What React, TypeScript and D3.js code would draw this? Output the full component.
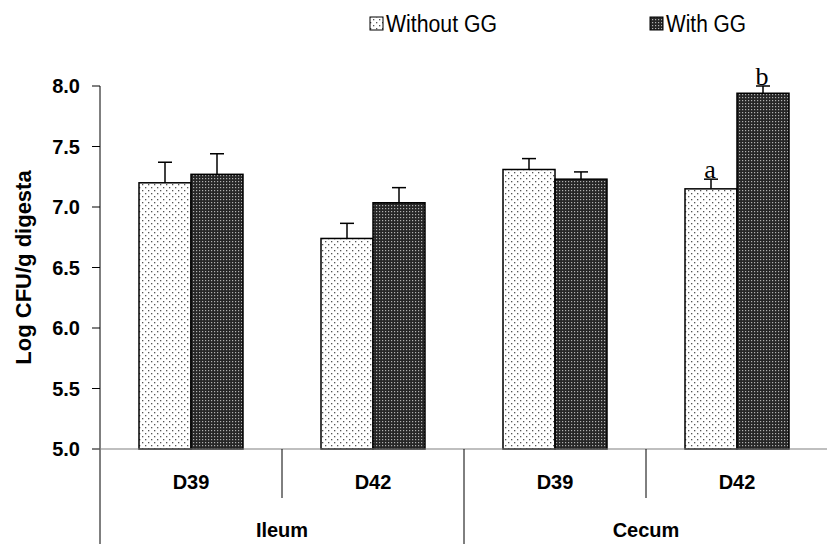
import React from "react";
import * as d3 from "d3";

const groups = ["Ileum", "Cecum"];
const days = ["D39", "D42"];
const seriesNames = ["Without GG", "With GG"];
// values per category (Ileum D39, Ileum D42, Cecum D39, Cecum D42)
const withoutGG = [7.2, 6.74, 7.31, 7.15];
const withoutGGErr = [0.17, 0.125, 0.09, 0.08];
const withGG = [7.27, 7.035, 7.23, 7.94];
const withGGErr = [0.17, 0.125, 0.06, 0.06];
const sigLetters = [
  ["", ""],
  ["", ""],
  ["", ""],
  ["a", "b"],
];
const yTicks = [5.0, 5.5, 6.0, 6.5, 7.0, 7.5, 8.0];

const W = 827;
const H = 544;
const left = 100;
const right = 828;
const top = 86;
const bottom = 449;

export default function App() {
  const cats = groups.flatMap((g) => days.map((d) => `${g}|${d}`));
  const x = d3.scaleBand<string>().domain(cats).range([left, right]).paddingInner(0).paddingOuter(0);
  const y = d3.scaleLinear().domain([5, 8]).range([bottom, top]);
  const barW = 52;
  const series = [
    { name: seriesNames[0], vals: withoutGG, err: withoutGGErr, fill: "url(#light)" },
    { name: seriesNames[1], vals: withGG, err: withGGErr, fill: "url(#dark)" },
  ];
  const bw = x.bandwidth();
  const font = "Arial, 'Liberation Sans', sans-serif";

  return (
    <svg width={W} height={H} style={{ position: "absolute", left: 0, top: 0, background: "#fff" }} fontFamily={font}>
      <defs>
        <pattern id="light" patternUnits="userSpaceOnUse" width="6" height="6">
          <rect width="6" height="6" fill="#fff" />
          <rect x="1" y="1" width="1.3" height="1.3" fill="#555" />
          <rect x="4" y="4" width="1.3" height="1.3" fill="#555" />
        </pattern>
        <pattern id="dark" patternUnits="userSpaceOnUse" width="3" height="3">
          <rect width="3" height="3" fill="#262626" />
          <rect x="1" y="1" width="1.2" height="1.2" fill="#b0b0b0" />
        </pattern>
      </defs>

      {/* Legend */}
      <g>
        <rect x={370} y={17} width={13} height={13} fill="url(#light)" stroke="#000" strokeWidth={1} />
        <text x={386} y={32} fontSize={23} textLength={111} lengthAdjust="spacingAndGlyphs">{seriesNames[0]}</text>
        <rect x={650} y={17} width={13} height={13} fill="url(#dark)" stroke="#000" strokeWidth={1} />
        <text x={666} y={32} fontSize={23} textLength={80} lengthAdjust="spacingAndGlyphs">{seriesNames[1]}</text>
      </g>

      {/* Y axis */}
      <line x1={left} x2={left} y1={top} y2={H} stroke="#000" strokeWidth={1} />
      {yTicks.map((t) => (
        <g key={t}>
          <line x1={left - 8} x2={left} y1={y(t)} y2={y(t)} stroke="#000" strokeWidth={1} />
          <text x={80} y={y(t)} dy="0.36em" textAnchor="end" fontSize={20} fontWeight="bold">
            {t.toFixed(1)}
          </text>
        </g>
      ))}
      <text
        transform={`translate(31,${(top + bottom) / 2}) rotate(-90)`}
        textAnchor="middle"
        fontSize={22}
        fontWeight="bold"
      >
        Log CFU/g digesta
      </text>

      {/* Bars */}
      {cats.map((c, i) => {
        const cx = (x(c) as number) + bw / 2;
        return (
          <g key={c}>
            {series.map((s, j) => {
              const bx = cx - barW + j * barW;
              const v = s.vals[i];
              const e = s.err[i];
              const ex = bx + barW / 2;
              return (
                <g key={j}>
                  <line x1={ex} x2={ex} y1={y(v)} y2={y(v + e)} stroke="#000" strokeWidth={1.5} />
                  <line x1={ex - 7} x2={ex + 7} y1={y(v + e)} y2={y(v + e)} stroke="#000" strokeWidth={1.5} />
                  <rect x={bx} y={y(v)} width={barW} height={bottom - y(v)} fill={s.fill} stroke="#000" strokeWidth={1.5} />
                  {sigLetters[i][j] && (
                    <text x={ex - 1} y={y(v + e) - 1} textAnchor="middle" fontSize={26} fontFamily="'Liberation Serif', 'Times New Roman', serif">
                      {sigLetters[i][j]}
                    </text>
                  )}
                </g>
              );
            })}
          </g>
        );
      })}

      {/* X axis */}
      <line x1={left - 8} x2={right} y1={bottom} y2={bottom} stroke="#808080" strokeWidth={1.2} />
      {cats.map((c, i) => {
        const x0 = x(c) as number;
        const isGroupEdge = i % days.length === 0;
        return (
          <g key={c}>
            {!isGroupEdge && <line x1={x0} x2={x0} y1={bottom} y2={498} stroke="#000" strokeWidth={1} />}
            {isGroupEdge && i > 0 && <line x1={x0} x2={x0} y1={bottom} y2={H} stroke="#000" strokeWidth={1} />}
            <text x={x0 + bw / 2} y={482} dy="0.36em" textAnchor="middle" fontSize={20} fontWeight="bold">
              {c.split("|")[1]}
            </text>
          </g>
        );
      })}
      {groups.map((g) => {
        const x0 = x(`${g}|${days[0]}`) as number;
        const gx = x0 + bw;
        return (
          <text key={g} x={gx} y={530} dy="0.36em" textAnchor="middle" fontSize={20} fontWeight="bold">
            {g}
          </text>
        );
      })}
    </svg>
  );
}
